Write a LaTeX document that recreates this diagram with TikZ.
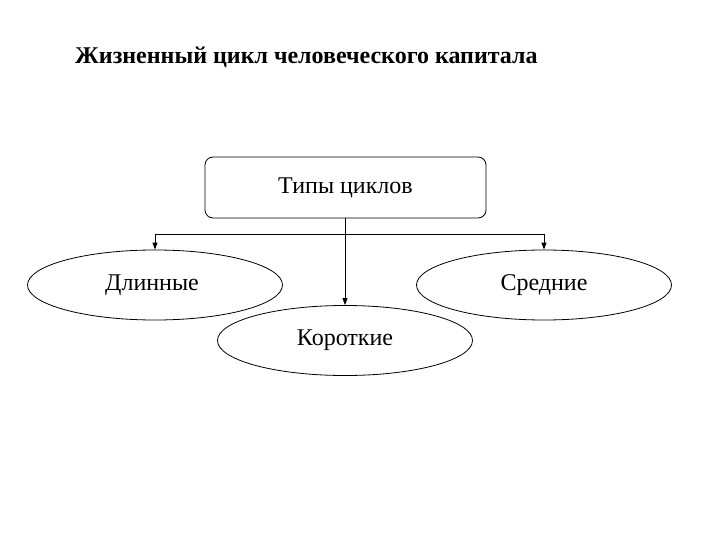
\documentclass[tikz,border=0pt]{standalone}
\usepackage{fontspec}
\setmainfont{Liberation Serif}
\newfontfamily\tmsfont{Liberation Serif}
\usetikzlibrary{shapes.geometric,arrows.meta}
\begin{document}
\begin{tikzpicture}[x=1pt,y=-1pt,
  every node/.style={font=\tmsfont\fontsize{24}{28}\selectfont},
  oval/.style={draw,ellipse,line width=0.8pt,minimum width=255pt,minimum height=70pt,inner sep=0pt},
  conn/.style={line width=0.8pt},
  arr/.style={conn,-{Triangle[length=7pt,width=5pt]}}]
\useasboundingbox (0,0) rectangle (720,540);
\node[font=\tmsfont\bfseries\fontsize{24}{28}\selectfont,anchor=base west,inner sep=0pt] (title) at (75,64) {Жизненный цикл человеческого капитала};
\node[draw,rounded corners=8pt,line width=0.8pt,minimum width=281pt,minimum height=61pt] (types) at (345.5,187.5) {Типы циклов};
\node[oval] (long) at (155,285) {\hspace*{-6pt}Длинные};
\node[oval] (mid) at (544,285) {Средние};
\node[oval] (short) at (345,340.5) {Короткие};
\coordinate (j) at (345,234);
\draw[arr] (types.south -| short.north) -- (short.north);
\draw[arr] (j) -| (long.north);
\draw[arr] (j) -| (mid.north);
\end{tikzpicture}
\end{document}
